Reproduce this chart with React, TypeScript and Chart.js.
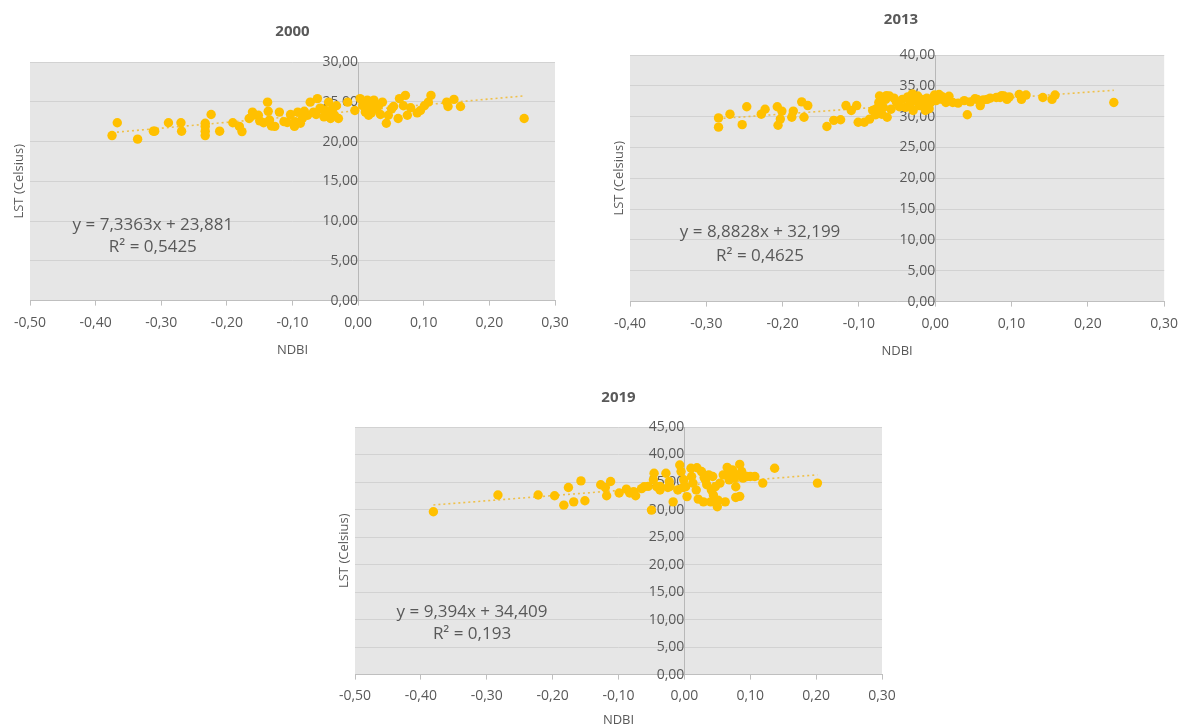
import React, { useEffect, useRef } from 'react';
import { Chart, registerables } from 'chart.js';

Chart.register(...registerables);
Chart.defaults.font.family = "'Open Sans', sans-serif";

// ---------- DATA ----------
const ndbi2000 = [-0.375, -0.367, -0.336, -0.312, -0.310, -0.289, -0.270, -0.269, -0.233, -0.233, -0.233, -0.233, -0.224, -0.211, -0.191, -0.181, -0.177, -0.166, -0.160, -0.152, -0.144, -0.138, -0.137, -0.135, -0.132, -0.127, -0.120, -0.113, -0.103, -0.097, -0.096, -0.092, -0.085, -0.082, -0.077, -0.073, -0.068, -0.062, -0.056, -0.052, -0.048, -0.045, -0.042, -0.039, -0.036, -0.033, -0.030, -0.016, -0.005, 0.003, 0.007, 0.011, 0.014, 0.016, 0.019, 0.024, 0.028, 0.031, 0.037, 0.043, 0.046, 0.051, 0.061, 0.063, 0.069, 0.072, 0.075, 0.080, 0.095, 0.101, 0.107, 0.111, 0.135, 0.137, 0.146, 0.156, 0.253, -0.161, -0.150, -0.108, -0.088, -0.064, -0.058, -0.050, 0.020, 0.034, 0.054, 0.090];
const lst2000 = [20.75, 22.36, 20.3, 21.3, 21.3, 22.36, 22.36, 21.3, 22.3, 21.9, 21.3, 20.75, 23.4, 21.3, 22.36, 21.9, 21.25, 22.9, 23.3, 23.3, 22.36, 24.95, 23.8, 22.7, 21.95, 21.9, 23.7, 22.5, 23.4, 21.9, 22.5, 23.7, 22.9, 23.8, 23.3, 24.95, 23.7, 25.4, 24.1, 23.1, 23.7, 24.95, 22.9, 24.1, 23.3, 24.5, 22.9, 24.95, 23.9, 25.4, 24.5, 23.7, 25.2, 23.3, 24.5, 25.2, 24.1, 24.5, 24.95, 22.3, 23.3, 24.1, 22.9, 25.4, 24.5, 25.8, 23.3, 24.25, 23.9, 24.5, 24.95, 25.8, 24.95, 24.4, 25.3, 24.4, 22.9, 23.7, 22.6, 22.4, 22.3, 23.4, 24.2, 23.9, 23.6, 23.4, 24.4, 23.6];

const ndbi2013 = [-0.284, -0.284, -0.269, -0.253, -0.247, -0.228, -0.223, -0.207, -0.206, -0.203, -0.201, -0.188, -0.186, -0.175, -0.172, -0.167, -0.142, -0.133, -0.124, -0.117, -0.110, -0.103, -0.101, -0.093, -0.086, -0.082, -0.078, -0.074, -0.073, -0.070, -0.068, -0.065, -0.063, -0.060, -0.058, -0.054, -0.050, -0.043, -0.039, -0.036, -0.033, -0.029, -0.027, -0.023, -0.021, -0.018, -0.016, -0.013, -0.011, -0.006, -0.001, 0.001, 0.005, 0.009, 0.014, 0.023, 0.038, 0.042, 0.046, 0.055, 0.059, 0.063, 0.068, 0.080, 0.085, 0.090, 0.094, 0.097, 0.110, 0.113, 0.119, 0.141, 0.153, 0.157, 0.234, -0.077, -0.064, -0.051, -0.047, -0.035, -0.030, -0.016, -0.008, 0.009, 0.018, 0.030, 0.052, 0.072, 0.087];
const lst2013 = [29.8, 28.3, 30.4, 28.7, 31.6, 30.4, 31.2, 31.6, 28.6, 29.6, 30.9, 29.9, 30.9, 32.4, 29.9, 31.8, 28.4, 29.4, 29.5, 31.8, 31.0, 31.8, 29.1, 29.1, 29.6, 31.0, 30.3, 32.3, 33.35, 30.4, 31.5, 32.8, 29.9, 33.35, 31.2, 33.0, 32.3, 32.8, 31.5, 33.2, 32.0, 31.0, 32.6, 33.35, 31.8, 32.8, 32.3, 31.0, 33.0, 32.3, 33.5, 32.6, 33.6, 32.8, 32.3, 32.3, 32.6, 30.3, 32.4, 32.8, 31.8, 32.7, 32.8, 33.1, 33.1, 33.35, 32.8, 33.2, 33.6, 32.8, 33.5, 33.1, 32.8, 33.5, 32.3, 31.3, 33.4, 32.4, 31.6, 32.9, 33.7, 32.1, 31.3, 33.25, 33.3, 32.2, 32.9, 33.0, 33.4];

const ndbi2019 = [-0.381, -0.283, -0.222, -0.197, -0.183, -0.176, -0.168, -0.157, -0.151, -0.127, -0.120, -0.118, -0.112, -0.099, -0.088, -0.083, -0.077, -0.074, -0.061, -0.050, -0.047, -0.046, -0.042, -0.037, -0.028, -0.025, -0.023, -0.017, -0.010, -0.007, -0.005, -0.001, 0.002, 0.004, 0.010, 0.011, 0.013, 0.018, 0.021, 0.026, 0.029, 0.032, 0.034, 0.037, 0.040, 0.041, 0.044, 0.047, 0.050, 0.051, 0.054, 0.059, 0.062, 0.065, 0.068, 0.070, 0.073, 0.076, 0.078, 0.078, 0.081, 0.084, 0.087, 0.089, 0.095, 0.100, 0.119, 0.137, 0.202, -0.055, -0.037, -0.022, -0.002, 0.019, 0.043, 0.084, 0.107, -0.065, 0.030];
const lst2019 = [29.6, 32.65, 32.65, 32.5, 30.8, 34.0, 31.4, 35.2, 31.6, 34.5, 34.0, 32.5, 35.1, 33.0, 33.7, 33.0, 33.25, 32.5, 34.15, 29.9, 35.4, 36.6, 34.15, 33.55, 36.6, 34.0, 35.1, 31.4, 33.55, 38.1, 36.9, 35.4, 34.15, 32.35, 37.5, 36.0, 34.8, 33.55, 31.9, 36.9, 31.4, 35.4, 34.5, 36.3, 31.4, 33.55, 32.65, 34.15, 30.5, 31.7, 34.8, 36.3, 31.4, 37.65, 35.4, 36.6, 37.2, 35.7, 34.15, 32.2, 36.3, 38.2, 36.9, 35.7, 36.0, 36.0, 34.8, 37.5, 34.8, 34.2, 34.2, 34.2, 34.0, 37.6, 36.0, 32.4, 36.0, 33.8, 35.8];

const titles = ['2000', '2013', '2019'];
const slopes = [7.3363, 8.8828, 9.394];
const intercepts = [23.881, 32.199, 34.409];
const equations = ['y = 7,3363x + 23,881', 'y = 8,8828x + 32,199', 'y = 9,394x + 34,409'];
const rSquared = ['R² = 0,5425', 'R² = 0,4625', 'R² = 0,193'];
const xMins = [-0.5, -0.4, -0.5];
const xMaxs = [0.3, 0.3, 0.3];
const yMaxs = [30, 40, 45];
const xAxisTitle = 'NDBI';
const yAxisTitle = 'LST (Celsius)';

// ---------- STYLE ----------
const TEXT = '#595959';
const fmt = (v: number) => {
  const n = Math.abs(Number(v)) < 1e-9 ? 0 : Number(v);
  return n.toFixed(2).replace('.', ',');
};

type Layout = {
  left: number; top: number; width: number; height: number;
  pad: { left: number; right: number; top: number; bottom: number };
  titlePad: { top: number; bottom: number };
  tickPad: number;
  xTitlePad: { top: number; bottom: number };
  eq: [number, number, number];
};

const layouts: Layout[] = [
  { left: 0, top: 10, width: 590, height: 348, pad: { left: 30, right: 35, top: 0, bottom: 0 }, titlePad: { top: 13, bottom: 21 }, tickPad: 9, xTitlePad: { top: 2, bottom: 0 }, eq: [0.234, 0.685, 0.777] },
  { left: 600, top: 0, width: 587, height: 359, pad: { left: 30, right: 15, top: 0, bottom: 0 }, titlePad: { top: 11, bottom: 26 }, tickPad: 9, xTitlePad: { top: 2, bottom: 0 }, eq: [0.2435, 0.72, 0.817] },
  { left: 325, top: 366, width: 590, height: 362, pad: { left: 30, right: 33, top: 0, bottom: 0 }, titlePad: { top: 23, bottom: 20 }, tickPad: 8, xTitlePad: { top: 0, bottom: 0 }, eq: [0.222, 0.746, 0.835] },
];

type PanelProps = { idx: number; xs: number[]; ys: number[] };

function Panel({ idx, xs, ys }: PanelProps) {
  const ref = useRef<HTMLCanvasElement | null>(null);
  const L = layouts[idx];
  useEffect(() => {
    if (!ref.current) return;
    const pts = xs.map((x, i) => ({ x, y: ys[i] }));
    const lo = Math.min(...xs);
    const hi = Math.max(...xs);
    const trend = [
      { x: lo, y: slopes[idx] * lo + intercepts[idx] },
      { x: hi, y: slopes[idx] * hi + intercepts[idx] },
    ];
    const bgPlugin = {
      id: 'bg' + idx,
      beforeDraw(chart: any) {
        const { ctx, chartArea: a } = chart;
        ctx.save();
        ctx.fillStyle = '#e6e6e6';
        ctx.fillRect(a.left, a.top, a.right - a.left, a.bottom - a.top);
        ctx.restore();
      },
    };
    const textPlugin = {
      id: 'txt' + idx,
      afterDraw(chart: any) {
        const { ctx, chartArea: a } = chart;
        ctx.save();
        ctx.fillStyle = TEXT;
        ctx.textAlign = 'center';
        ctx.textBaseline = 'middle';
        ctx.font = "17px 'Open Sans', sans-serif";
        const w = a.right - a.left;
        const h = a.bottom - a.top;
        ctx.fillText(equations[idx], a.left + L.eq[0] * w, a.top + L.eq[1] * h);
        ctx.fillText(rSquared[idx], a.left + L.eq[0] * w, a.top + L.eq[2] * h);
        ctx.translate(a.left - 11, (a.top + a.bottom) / 2);
        ctx.rotate(-Math.PI / 2);
        ctx.font = "13px 'Open Sans', sans-serif";
        ctx.fillText(yAxisTitle, 0, 0);
        ctx.restore();
      },
    };
    const chart = new Chart(ref.current, {
      type: 'scatter',
      data: {
        datasets: [
          {
            data: pts,
            backgroundColor: '#FFC000',
            borderColor: '#FFC000',
            borderWidth: 0,
            pointRadius: 4.7,
            pointHoverRadius: 4.7,
          },
          {
            type: 'line',
            data: trend,
            showLine: true,
            borderColor: '#EFC04A',
            borderWidth: 1.6,
            borderDash: [2, 3],
            pointRadius: 0,
            fill: false,
          } as any,
        ],
      },
      options: {
        responsive: false,
        maintainAspectRatio: false,
        animation: false,
        events: [],
        layout: { padding: L.pad },
        plugins: {
          legend: { display: false },
          tooltip: { enabled: false },
          title: {
            display: true,
            text: titles[idx],
            color: TEXT,
            font: { size: 15, weight: 'bold' },
            padding: L.titlePad,
          },
        },
        scales: {
          x: {
            type: 'linear',
            position: 'bottom',
            min: xMins[idx],
            max: xMaxs[idx],
            ticks: {
              stepSize: 0.1,
              callback: (v: any) => fmt(v),
              color: TEXT,
              font: { size: 14 },
              padding: L.tickPad,
              maxRotation: 0,
              autoSkip: false,
            },
            grid: { drawOnChartArea: false, drawTicks: true, tickLength: 5, color: '#bfbfbf' },
            border: { display: true, color: '#bfbfbf' },
            title: { display: true, text: xAxisTitle, color: TEXT, font: { size: 13 }, padding: L.xTitlePad },
          },
          y: {
            type: 'linear',
            position: { x: 0 } as any,
            min: 0,
            max: yMaxs[idx],
            ticks: {
              stepSize: 5,
              callback: (v: any) => fmt(v),
              color: TEXT,
              font: { size: 14 },
              padding: 3,
            },
            grid: { color: '#d2d2d2', drawTicks: true, tickLength: 5 },
            border: { display: true, color: '#b8b8b8' },
          },
        },
      } as any,
      plugins: [bgPlugin, textPlugin],
    });
    return () => chart.destroy();
  }, []);
  return (
    <canvas
      ref={ref}
      width={L.width}
      height={L.height}
      style={{ position: 'absolute', left: L.left, top: L.top, width: L.width, height: L.height }}
    />
  );
}

export default function App() {
  return (
    <div style={{ position: 'absolute', left: 0, top: 0, width: 1187, height: 726, overflow: 'hidden', background: '#ffffff' }}>
      <Panel idx={0} xs={ndbi2000} ys={lst2000} />
      <Panel idx={1} xs={ndbi2013} ys={lst2013} />
      <Panel idx={2} xs={ndbi2019} ys={lst2019} />
    </div>
  );
}
